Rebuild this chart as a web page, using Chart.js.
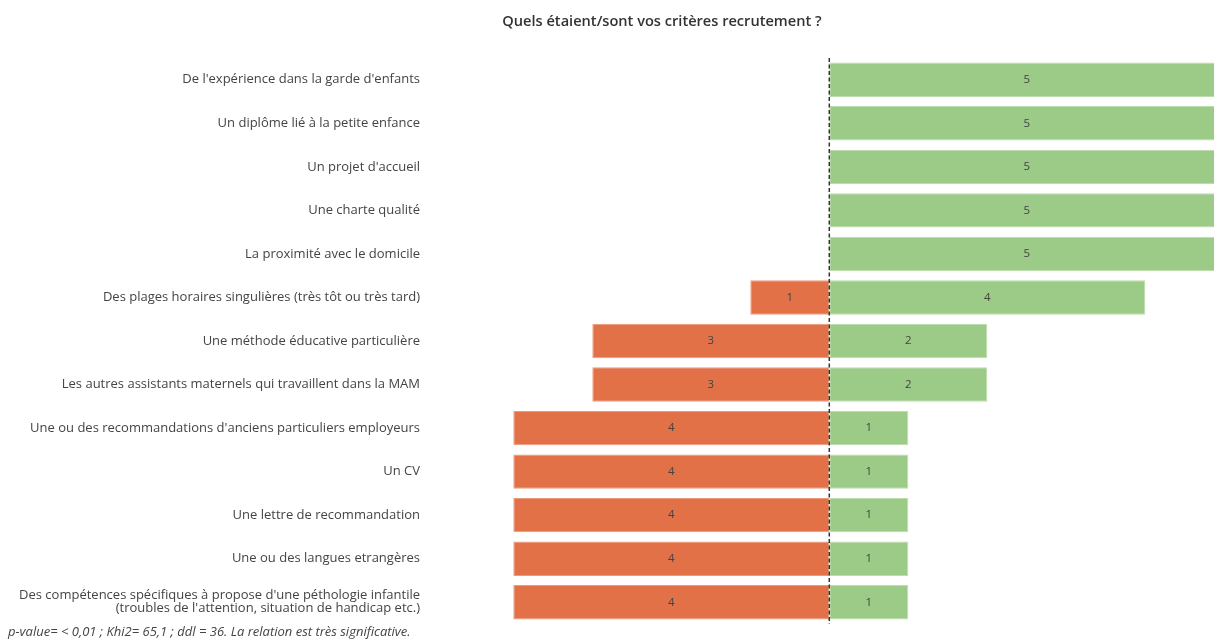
<!DOCTYPE html>
<html>
<head>
<meta charset="utf-8">
<script src="https://cdn.jsdelivr.net/npm/chart.js@4/dist/chart.umd.min.js"></script>
<style>
  html, body { margin: 0; padding: 0; background: #fff; }
  #wrap { width: 1214px; height: 639px; position: relative; }
</style>
</head>
<body>
<div id="wrap"><canvas id="chart"></canvas></div>
<script>
const categories = [
  "De l'expérience dans la garde d'enfants",
  "Un diplôme lié à la petite enfance",
  "Un projet d'accueil",
  "Une charte qualité",
  "La proximité avec le domicile",
  "Des plages horaires singulières (très tôt ou très tard)",
  "Une méthode éducative particulière",
  "Les autres assistants maternels qui travaillent dans la MAM",
  "Une ou des recommandations d'anciens particuliers employeurs",
  "Un CV",
  "Une lettre de recommandation",
  "Une ou des langues etrangères",
  ["Des compétences spécifiques à propose d'une péthologie infantile", "(troubles de l'attention, situation de handicap etc.)"]
]
const nonValues = [0, 0, 0, 0, 0, 1, 3, 3, 4, 4, 4, 4, 4]
const ouiValues = [5, 5, 5, 5, 5, 4, 2, 2, 1, 1, 1, 1, 1]
const titleText = 'Quels étaient/sont vos critères recrutement ?'
const noteText = 'p-value= < 0,01 ; Khi2= 65,1 ; ddl = 36. La relation est très significative.'

const FONT = '"Open Sans", sans-serif'

// valeurs au milieu des barres + ligne pointillée à zéro + titre / note
const overlay = {
  id: 'overlay',
  afterDatasetsDraw(chart) {
    const ctx = chart.ctx
    ctx.save()
    ctx.font = '11.5px ' + FONT
    ctx.fillStyle = '#444'
    ctx.textAlign = 'center'
    ctx.textBaseline = 'middle'
    chart.data.datasets.forEach(function(ds, i) {
      chart.getDatasetMeta(i).data.forEach(function(bar, j) {
        const v = Math.abs(ds.data[j])
        if (!v) return
        const cx = (bar.x + bar.base) / 2
        ctx.fillText(String(v), cx, bar.y)
      })
    })
    const x0 = chart.scales.x.getPixelForValue(0)
    ctx.strokeStyle = '#333'
    ctx.lineWidth = 1.5
    ctx.setLineDash([4, 2.5])
    ctx.beginPath()
    ctx.moveTo(x0, chart.chartArea.top)
    ctx.lineTo(x0, chart.chartArea.bottom)
    ctx.stroke()
    ctx.setLineDash([])

    ctx.font = '600 14.6px ' + FONT
    ctx.fillStyle = '#333'
    ctx.fillText(titleText, 662, 22)

    ctx.font = 'italic 13px ' + FONT
    ctx.fillStyle = '#444'
    ctx.textAlign = 'left'
    ctx.fillText(noteText, 8, 632)
    ctx.restore()
  }
}

new Chart(document.getElementById('chart'), {
  type: 'bar',
  data: {
    labels: categories,
    datasets: [{
      label: 'Non',
      data: nonValues.map(function(v) { return -v }),
      backgroundColor: '#E27148',
      borderColor: '#EC9A7C',
      borderWidth: 1,
      borderSkipped: false,
      categoryPercentage: 1,
      barPercentage: 0.79
    }, {
      label: 'Oui',
      data: ouiValues,
      backgroundColor: '#9BCB86',
      borderColor: '#BCDDAD',
      borderWidth: 1,
      borderSkipped: false,
      categoryPercentage: 1,
      barPercentage: 0.79
    }]
  },
  options: {
    indexAxis: 'y',
    responsive: true,
    maintainAspectRatio: false,
    animation: false,
    layout: { padding: { top: 58, bottom: 15, left: 0, right: 0 } },
    plugins: {
      legend: { display: false },
      tooltip: { enabled: false }
    },
    scales: {
      x: {
        stacked: true,
        display: false,
        min: -5.08,
        max: 4.87
      },
      y: {
        stacked: true,
        grid: { display: false, drawTicks: false },
        border: { display: false },
        afterFit: function(scale) { scale.width = 428 },
        ticks: {
          padding: 8,
          color: '#444',
          font: { family: FONT, size: 13, lineHeight: 1.0 }
        }
      }
    }
  },
  plugins: [overlay]
})
</script>
</body>
</html>
